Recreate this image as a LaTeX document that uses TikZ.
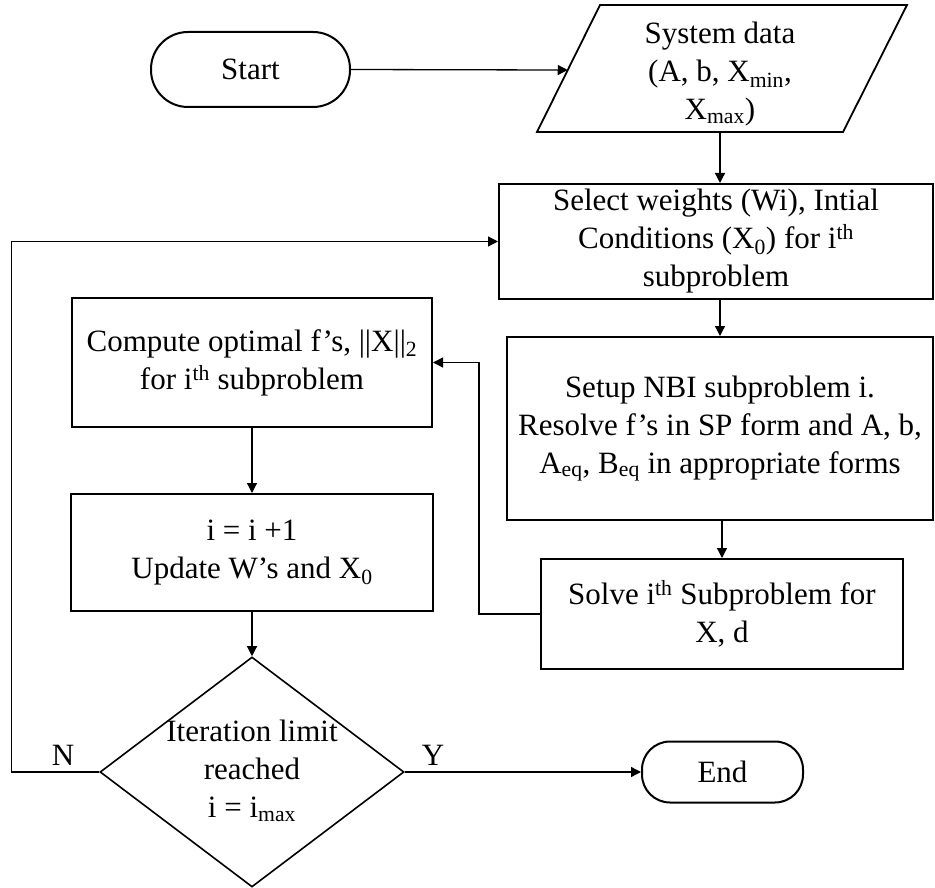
\documentclass[tikz,border=0pt]{standalone}
\usepackage{fontspec}
\setmainfont{Liberation Serif}
\usetikzlibrary{shapes.geometric,arrows.meta,calc}
\begin{document}
\begin{tikzpicture}[x=1pt,y=-1pt,
  txt/.style={font=\fontsize{31}{38}\selectfont, align=center, inner sep=0pt},
  box/.style={txt, draw, line width=2pt, rectangle},
  term/.style={box, rounded corners=#1},
  link/.style={line width=1.3pt},
  arr/.style={link, -{Triangle[length=10pt,width=10pt]}}]
\useasboundingbox (0,0) rectangle (935,888);

% terminals
\node[term=37pt, minimum width=199pt, minimum height=75pt] (start) at (250.5,69.5) {Start};
\node[term=28pt, minimum width=161pt, minimum height=61pt] (end) at (722.5,772) {End};

% input/output parallelogram
\coordinate (pTL) at (600,5);
\coordinate (pTR) at (907,5);
\coordinate (pBR) at (843,132);
\coordinate (pBL) at (537,132);
\draw[line width=1.8pt] (pTL) -- (pTR) -- (pBR) -- (pBL) -- cycle;
\node[txt] (data) at (720,74) {System data\\(A, b, X\textsubscript{min},\\X\textsubscript{max})};
\coordinate (dataIn) at ($(pTL)!0.512!(pBL)$);
\coordinate (dataOut) at (720,132);

% process boxes
\node[box, minimum width=434pt, minimum height=115pt] (sel) at (716,241.5)
  {Select weights (Wi), Intial\\Conditions (X\textsubscript{0}) for i\textsuperscript{th}\\subproblem};
\node[box, minimum width=426pt, minimum height=183pt] (setup) at (720,428.5)
  {Setup NBI subproblem i.\\Resolve f’s in SP form and A, b,\\A\textsubscript{eq}, B\textsubscript{eq} in appropriate forms};
\node[box, minimum width=362pt, minimum height=110pt] (solve) at (722,614)
  {Solve i\textsuperscript{th} Subproblem for\\X, d};
\node[box, minimum width=360pt, minimum height=129pt] (comp) at (252,362.5)
  {Compute optimal f’s, ||X||\textsubscript{2}\\for i\textsuperscript{th} subproblem};
\node[box, minimum width=362pt, minimum height=117pt] (inc) at (252,552.5)
  {i = i +1\\Update W’s and X\textsubscript{0}};

% decision
\node[draw, diamond, line width=1.6pt, inner sep=0pt, minimum width=304pt, minimum height=230pt] (dec) at (252,772) {};
\node[txt] (dectext) at (252,771) {Iteration limit\\reached\\i = i\textsubscript{max}};
\node[txt] (lblN) at (63,755) {N};
\node[txt] (lblY) at (433,755) {Y};

% connectors
\draw[arr] (start.east) -- (dataIn);
\draw[arr] (dataOut) -- (dataOut |- sel.north);
\draw[arr] (setup.north |- sel.south) -- (setup.north);
\draw[arr] (solve.north |- setup.south) -- (solve.north);
\draw[arr] (solve.west) -- ++(-61,0) |- (comp.east);
\draw[arr] (comp.south) -- (inc.north);
\draw[arr] (inc.south) -- (dec.north);
\draw[arr] (dec.west) -- ++(-88,0) |- (sel.west);
\draw[arr] (dec.east) -- (end.west);
\end{tikzpicture}
\end{document}
